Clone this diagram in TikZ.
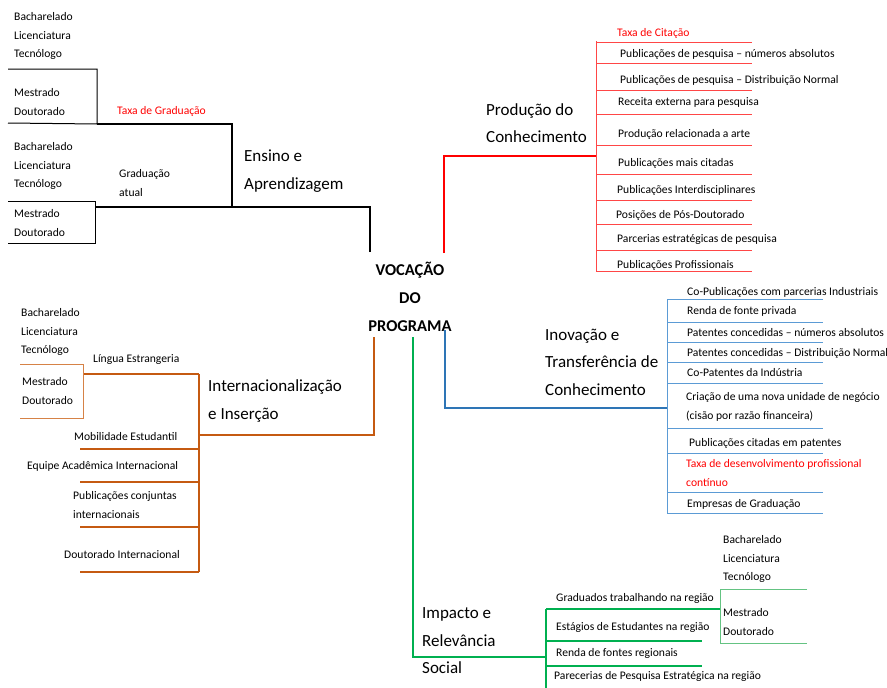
\documentclass[tikz,border=0pt]{standalone}
\usepackage{fontspec}
\setmainfont{Carlito}
\definecolor{cred}{RGB}{255,0,0}
\definecolor{credl}{RGB}{255,70,70}
\definecolor{corg}{RGB}{197,90,17}
\definecolor{corgl}{RGB}{214,130,70}
\definecolor{cblue}{RGB}{46,117,182}
\definecolor{cbluel}{RGB}{91,155,213}
\definecolor{cgrn}{RGB}{0,176,80}
\definecolor{cgrnl}{RGB}{100,195,130}
\tikzset{
  sm/.style={font=\fontsize{11.6}{18.5}\selectfont, anchor=west, inner sep=0pt, align=left},
  big/.style={font=\fontsize{17}{27.5}\selectfont, anchor=west, inner sep=0pt, align=left},
  ctr/.style={font=\bfseries\fontsize{16.5}{28}\selectfont, inner sep=0pt, align=center},
  mainline/.style={line width=2.6pt},
  thinline/.style={line width=1pt},
  midline/.style={line width=1.6pt}
}
\begin{document}
\begin{tikzpicture}[x=1pt,y=-1pt]
\useasboundingbox (0,0) rectangle (887,688);
\fill[white] (0,0) rectangle (887,688);

% centre
\node[ctr] (ctr) at (410,297) {VOCAÇÃO\\DO\\PROGRAMA};

% ---------------- Ensino e Aprendizagem (black)
\node[big] (ens) at (244,171) {Ensino e\\Aprendizagem};
\node[sm] (e1) at (14,36) {Bacharelado\\Licenciatura\\Tecnólogo};
\node[sm] (e2) at (14,102) {Mestrado\\Doutorado};
\node[sm,text=cred] (e3) at (117,111) {Taxa de Graduação};
\node[sm] (e4) at (14,166) {Bacharelado\\Licenciatura\\Tecnólogo};
\node[sm] (e5) at (119,183) {Graduação\\atual};
\node[sm] (e6) at (14,223) {Mestrado\\Doutorado};
\coordinate (eA) at (370,252);
\coordinate (eB) at (370,207);
\coordinate (eC) at (95,207);
\coordinate (eD) at (232,207);
\coordinate (eE) at (232,124);
\coordinate (eF) at (97,124);
\draw[mainline] (eA) -- (eB) -- (eC);
\draw[mainline] (eD) -- (eE) -- (eF);
\draw[thinline] (8,69) -- (97,69) -- (97,124) -- (8,123);
\draw[thinline] (8,201) -- (95,201) -- (95,243) -- (8,243);

% ---------------- Produção do Conhecimento (red)
\node[big] (prod) at (486,123) {Produção do\\Conhecimento};
\coordinate (pA) at (444,253);
\coordinate (pB) at (444,156);
\coordinate (pC) at (596,156);
\draw[mainline,cred] (pA) -- (pB) -- (pC);
\draw[thinline,credl] (596,41) -- (596,271);
\foreach \yy in {42,63,90,114,145,174,200,224,250,271}
  \draw[thinline,credl] (596,\yy) -- (752,\yy);
\node[sm,text=cred] (p0) at (617,33) {Taxa de Citação};
\node[sm] (p1) at (620,54) {Publicações de pesquisa – números absolutos};
\node[sm] (p2) at (620,80) {Publicações de pesquisa – Distribuição Normal};
\node[sm] (p3) at (618,102) {Receita externa para pesquisa};
\node[sm] (p4) at (618,134) {Produção relacionada a arte};
\node[sm] (p5) at (618,163) {Publicações mais citadas};
\node[sm] (p6) at (617,190) {Publicações Interdisciplinares};
\node[sm] (p7) at (616,215) {Posições de Pós-Doutorado};
\node[sm] (p8) at (617,239) {Parcerias estratégicas de pesquisa};
\node[sm] (p9) at (617,265) {Publicações Profissionais};

% ---------------- Internacionalização e Inserção (orange)
\node[big] (int) at (208,401) {Internacionalização\\e Inserção};
\coordinate (iA) at (374,337);
\coordinate (iB) at (374,435);
\coordinate (iC) at (199,435);
\draw[mainline,corg] (iA) -- (iB) -- (iC);
\draw[midline,corg] (199,374) -- (199,572);
\draw[midline,corg] (199,374) -- (83,374);
\foreach \yy in {449,482,527,572}
  \draw[midline,corg] (80,\yy) -- (199,\yy);
\draw[thinline,corgl] (20,364) -- (83,364) -- (83,418) -- (20,418);
\node[sm] (i1) at (21,332) {Bacharelado\\Licenciatura\\Tecnólogo};
\node[sm] (i2) at (93,360) {Língua Estrangeria};
\node[sm] (i3) at (22,391) {Mestrado\\Doutorado};
\node[sm] (i4) at (74,437) {Mobilidade Estudantil};
\node[sm] (i5) at (27,466) {Equipe Acadêmica Internacional};
\node[sm] (i6) at (73,505) {Publicações conjuntas\\internacionais};
\node[sm] (i7) at (64,555) {Doutorado Internacional};

% ---------------- Inovação e Transferência de Conhecimento (blue)
\node[big] (inov) at (545,362) {Inovação e\\Transferência de\\Conhecimento};
\coordinate (nA) at (445,330);
\coordinate (nB) at (445,408);
\coordinate (nC) at (667,408);
\draw[mainline,cblue] (nA) -- (nB) -- (nC);
\draw[thinline,cbluel] (667,299) -- (667,513);
\foreach \yy in {299,322,342,362,383,428,453,492,513}
  \draw[thinline,cbluel] (667,\yy) -- (823,\yy);
\node[sm] (n1) at (687,292) {Co-Publicações com parcerias Industriais};
\node[sm] (n2) at (687,311) {Renda de fonte privada};
\node[sm] (n3) at (687,333) {Patentes concedidas – números absolutos};
\node[sm] (n4) at (687,353) {Patentes concedidas – Distribuição Normal};
\node[sm] (n5) at (687,373) {Co-Patentes da Indústria};
\node[sm] (n6) at (686,407) {Criação de uma nova unidade de negócio\\(cisão por razão financeira)};
\node[sm] (n7) at (689,443) {Publicações citadas em patentes};
\node[sm,text=cred] (n8) at (686,473) {Taxa de desenvolvimento profissional\\contínuo};
\node[sm] (n9) at (687,504) {Empresas de Graduação};

% ---------------- Impacto e Relevância Social (green)
\node[big] (imp) at (422,641) {Impacto e\\Relevância\\Social};
\coordinate (gA) at (413,337);
\coordinate (gB) at (413,657);
\coordinate (gC) at (546,657);
\draw[mainline,cgrn] (gA) -- (gB) -- (gC);
\draw[midline,cgrn] (546,609) -- (546,688);
\draw[midline,cgrn] (546,609) -- (720,609);
\draw[midline,cgrn] (546,641) -- (702,641);
\draw[midline,cgrn] (546,666) -- (702,666);
\draw[thinline,cgrnl] (807,589) -- (720,589) -- (720,643) -- (807,643);
\node[sm] (g1) at (723,559) {Bacharelado\\Licenciatura\\Tecnólogo};
\node[sm] (g2) at (556,598) {Graduados trabalhando na região};
\node[sm] (g3) at (723,622) {Mestrado\\Doutorado};
\node[sm] (g4) at (556,627) {Estágios de Estudantes na região};
\node[sm] (g5) at (556,653) {Renda de fontes regionais};
\node[sm] (g6) at (554,676) {Parecerias de Pesquisa Estratégica na região};
\end{tikzpicture}
\end{document}
